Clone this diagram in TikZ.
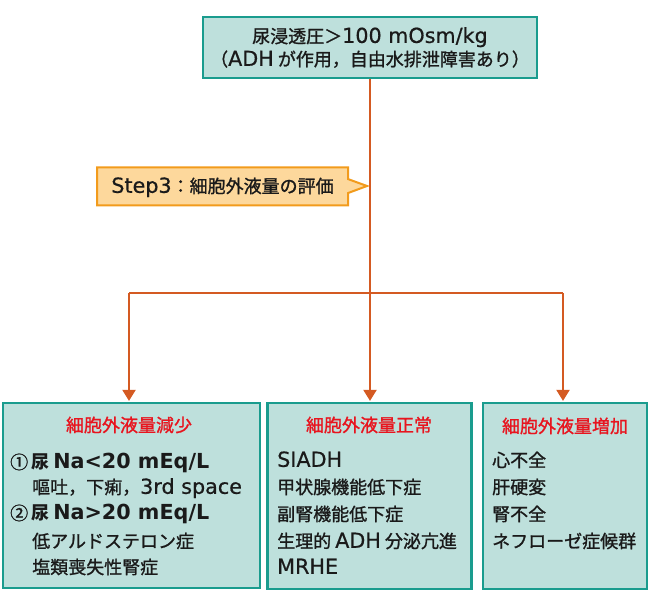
\documentclass[tikz,border=0pt]{standalone}
\usepackage{fontspec}
\setmainfont{Noto Sans CJK JP}[UprightFeatures={FakeBold=1.2}]
\newfontfamily\latf{DejaVu Sans}[Scale=1.15, UprightFeatures={FakeBold=0.6}]
\newcommand\lt[1]{{\latf #1}}
\usetikzlibrary{arrows.meta,shapes.callouts}
\definecolor{boxfill}{HTML}{BEE0DC}
\definecolor{boxline}{HTML}{1A9C8E}
\definecolor{conncol}{HTML}{D45A22}
\definecolor{stepfill}{HTML}{FDD89C}
\definecolor{stepline}{HTML}{F29B1C}
\definecolor{titlered}{HTML}{E8141E}
\definecolor{txt}{HTML}{1A1A1A}
\tikzset{
  boxstyle/.style={draw=boxline, fill=boxfill, line width=2.2pt, inner sep=0pt},
  conn/.style={draw=conncol, line width=2pt},
  arr/.style={conn, -{Triangle[width=13pt,length=11pt]}},
  item/.style={inner sep=0pt, text=txt, text height=15.8pt, text depth=2.2pt,
     font=\fontsize{18}{23}\selectfont},
  titletext/.style={item, text=titlered},
  stepbox/.style={rectangle callout, draw=stepline, fill=stepfill, line width=2pt,
     minimum width=251pt, minimum height=38pt, inner sep=0pt, callout pointer width=14pt}
}
\begin{document}
\begin{tikzpicture}[x=1pt,y=-1pt]
\useasboundingbox (0,0) rectangle (668,593);
% top box
\node[boxstyle, minimum width=334pt, minimum height=61pt, align=center, text=txt,
      font=\fontsize{18}{23}\selectfont] (top) at (370,47.5)
  {尿浸透圧＞\lt{100 mOsm/kg}\\（\lt{ADH} が作用，自由水排泄障害あり）};
% step callout
\node[stepbox, callout absolute pointer={(367,186)}] (step) at (222.5,186.5) {};
\node[item] (steptext) at (222.5,186) {\lt{Step3}：細胞外液量の評価};
% bottom boxes
\node[boxstyle, minimum width=257pt, minimum height=185pt] (left) at (131.5,495.5) {};
\node[boxstyle, minimum width=204pt, minimum height=186pt] (mid) at (369.5,496) {};
\node[boxstyle, minimum width=164pt, minimum height=186pt] (right) at (565,496) {};
% connectors
\coordinate (jn) at (top.south |- 0,293);
\coordinate (jl) at (129,293);
\coordinate (jr) at (563,293);
\draw[conn] (top.south) -- (jn);
\draw[conn] (jl) -- (jr);
\draw[arr] (jl) -- ([yshift=1pt]jl |- left.north);
\draw[arr] (jn) -- ([yshift=1pt]jn |- mid.north);
\draw[arr] (jr) -- ([yshift=1pt]jr |- right.north);
% titles
\node[titletext] (lt) at (129,425) {細胞外液量減少};
\node[titletext] (mt) at (369,425) {細胞外液量正常};
\node[titletext] (rt) at (565,426) {細胞外液量増加};
% left items
\node[item, anchor=west] (l1) at (10,462) {①\hspace{3pt}\bfseries 尿 \lt{Na<20 mEq/L}};
\node[item, anchor=west] (l2) at (32,487) {嘔吐，下痢，\lt{3rd space}};
\node[item, anchor=west] (l3) at (10,513) {②\hspace{3pt}\bfseries 尿 \lt{Na>20 mEq/L}};
\node[item, anchor=west] (l4) at (32,541) {低アルドステロン症};
\node[item, anchor=west] (l5) at (32,567) {塩類喪失性腎症};
% middle items
\node[item, anchor=west] (m1) at (277,460) {\lt{SIADH}};
\node[item, anchor=west] (m2) at (277,487) {甲状腺機能低下症};
\node[item, anchor=west] (m3) at (277,514) {副腎機能低下症};
\node[item, anchor=west] (m4) at (277,541) {生理的 \lt{ADH} 分泌亢進};
\node[item, anchor=west] (m5) at (277,567) {\lt{MRHE}};
% right items
\node[item, anchor=west] (r1) at (492,460) {心不全};
\node[item, anchor=west] (r2) at (492,487) {肝硬変};
\node[item, anchor=west] (r3) at (492,514) {腎不全};
\node[item, anchor=west] (r4) at (492,541) {ネフローゼ症候群};
\end{tikzpicture}
\end{document}
